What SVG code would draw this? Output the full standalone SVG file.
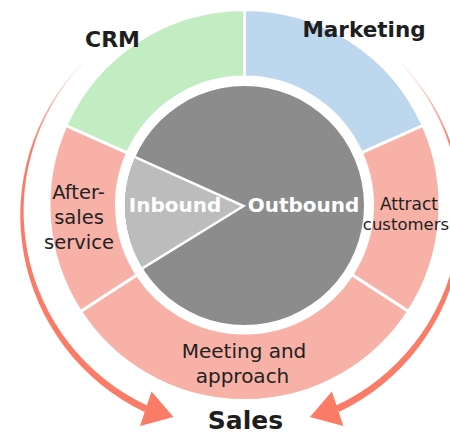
<svg xmlns="http://www.w3.org/2000/svg" width="450" height="435" viewBox="0 0 450 435">
<style>
  .seg { stroke: #ffffff; stroke-width: 3; stroke-linejoin: miter; }
  .lbl { font-family: "DejaVu Sans", Verdana, sans-serif; fill: #222222; text-anchor: middle; }
  .title { font-family: "DejaVu Sans", Verdana, sans-serif; font-weight: bold; fill: #1e1e1e; text-anchor: middle; }
  .inner { font-family: "DejaVu Sans", Verdana, sans-serif; font-weight: bold; fill: #ffffff; text-anchor: middle; font-size: 20px; }
  .arrow { fill: url(#fade); }
</style>
<defs>
  <linearGradient id="fade" gradientUnits="userSpaceOnUse" x1="82" y1="60" x2="35" y2="150">
    <stop offset="0" stop-color="#fa7c67" stop-opacity="0.1"/>
    <stop offset="1" stop-color="#fa7c67" stop-opacity="1"/>
  </linearGradient>
</defs>
<rect width="450" height="435" fill="#ffffff"/>

<g id="connectors">
  <g id="arrow-left">
    <path class="arrow" d="M81.4,63.8 A218,218 0 0 0 144.4,411.9 L147.3,405.6 A214.5,214.5 0 0 1 81.9,64.3 Z"/>
    <polygon points="151.5,391.5 173.5,417 140,426" fill="#fa7c67"/>
  </g>
  <g id="arrow-right" transform="translate(483.4,0) scale(-1,1)">
    <path class="arrow" d="M81.4,63.8 A218,218 0 0 0 144.4,411.9 L147.3,405.6 A214.5,214.5 0 0 1 81.9,64.3 Z"/>
    <polygon points="151.5,391.5 173.5,417 140,426" fill="#fa7c67"/>
  </g>
</g>

<g id="marketing">
  <path class="seg" fill="#bdd7ee" d="M244.5,9.5 A195.5,195.5 0 0 1 423.1,125.5 L361.4,152.9 A128,128 0 0 0 244.5,77 Z"/>
  <text class="title" x="364" y="37" font-size="21.5">Marketing</text>
</g>
<g id="attract">
  <path class="seg" fill="#f7b1a7" d="M423.1,125.5 A195.5,195.5 0 0 1 408.5,311.5 L351.9,274.7 A128,128 0 0 0 361.4,152.9 Z"/>
  <text class="lbl" font-size="17" x="409" y="210">Attract</text>
  <text class="lbl" font-size="16.5" x="406" y="230">customers</text>
</g>
<g id="meeting">
  <path class="seg" fill="#f7b1a7" d="M408.5,311.5 A195.5,195.5 0 0 1 80.5,311.5 L137.1,274.7 A128,128 0 0 0 351.9,274.7 Z"/>
  <text class="lbl" font-size="20" x="244" y="358">Meeting and</text>
  <text class="lbl" font-size="20" x="242.5" y="383">approach</text>
</g>
<g id="after-sales">
  <path class="seg" fill="#f7b1a7" d="M80.5,311.5 A195.5,195.5 0 0 1 65.9,125.5 L127.6,152.9 A128,128 0 0 0 137.1,274.7 Z"/>
  <text class="lbl" font-size="19.5" x="78.5" y="199">After-</text>
  <text class="lbl" font-size="19.5" x="79" y="224">sales</text>
  <text class="lbl" font-size="19.5" x="79" y="249">service</text>
</g>
<g id="crm">
  <path class="seg" fill="#c2ecc1" d="M65.9,125.5 A195.5,195.5 0 0 1 244.5,9.5 L244.5,77 A128,128 0 0 0 127.6,152.9 Z"/>
  <text class="title" x="112.5" y="47" font-size="22">CRM</text>
</g>

<g id="outbound">
  <circle cx="244.5" cy="205.5" r="119.5" fill="#8c8c8c"/>
  <text class="inner" x="303.5" y="212">Outbound</text>
</g>
<g id="inbound">
  <path d="M243.5,206 L142.7,268.1 A119.5,119.5 0 0 1 135.2,157.1 Z" fill="#bcbcbc"/>
  <path d="M135.2,157.1 L243.5,206 L142.7,268.1" fill="none" stroke="#ffffff" stroke-width="2.5"/>
  <text class="inner" x="175" y="212">Inbound</text>
</g>

<g id="sales">
  <text class="title" x="245.5" y="429" font-size="25">Sales</text>
</g>
</svg>
